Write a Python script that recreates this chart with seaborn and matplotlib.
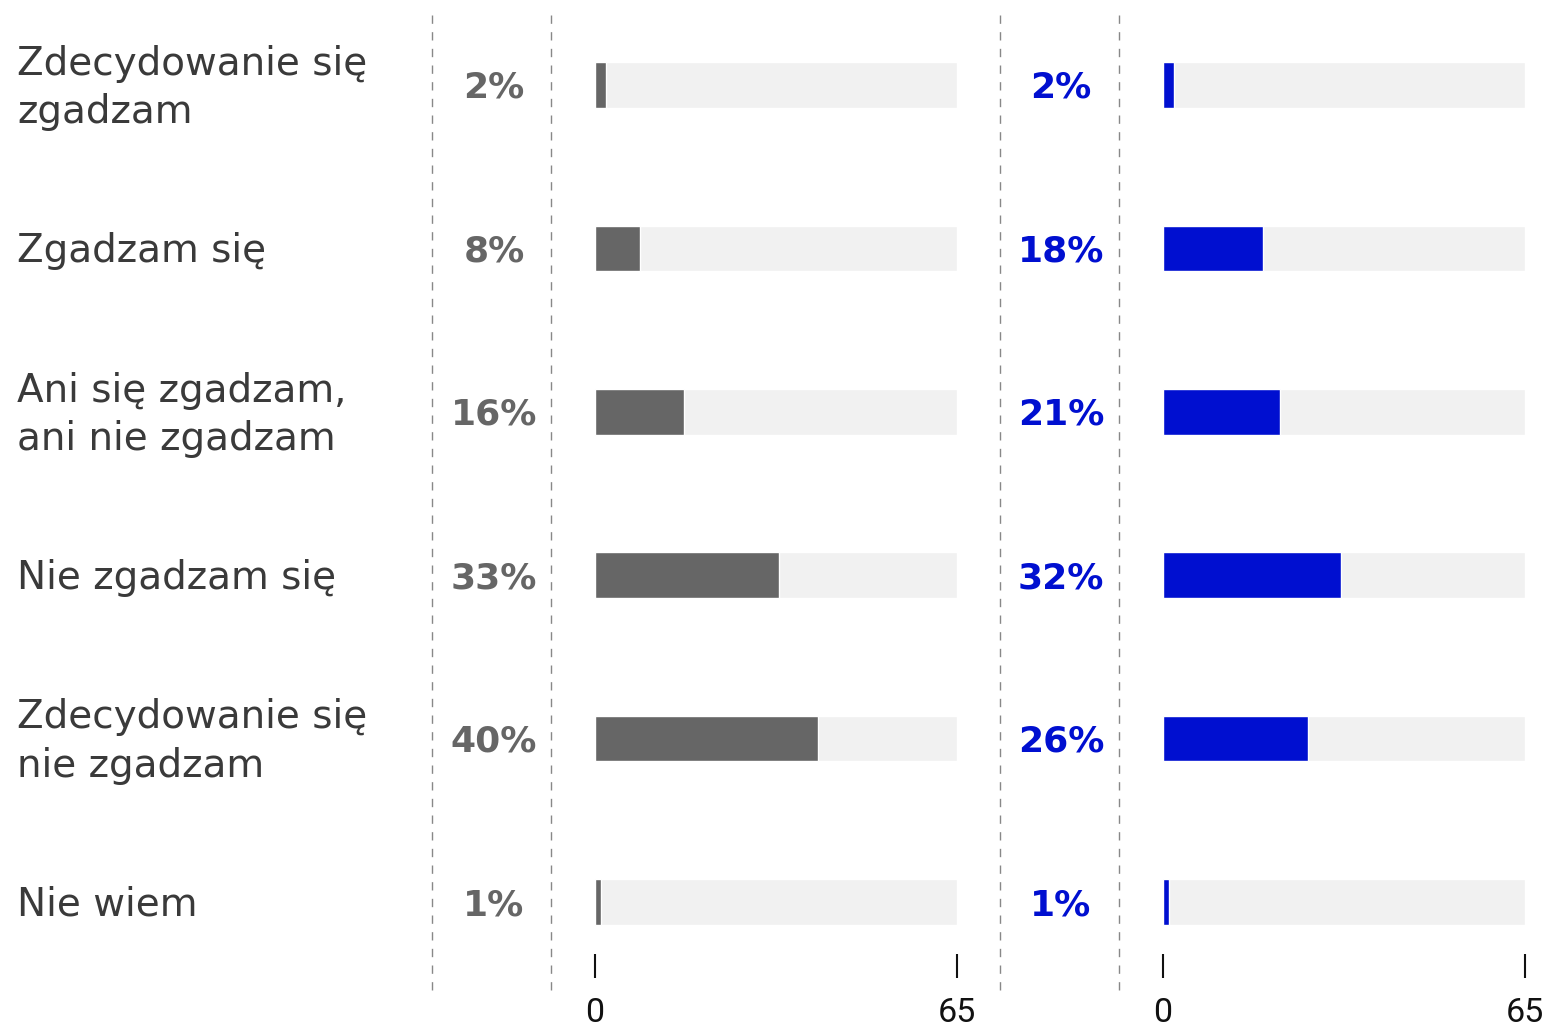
import matplotlib.pyplot as plt
import pandas as pd
import seaborn as sns
from matplotlib.lines import Line2D

categories = [
    "Zdecydowanie się\nzgadzam",
    "Zgadzam się",
    "Ani się zgadzam,\nani nie zgadzam",
    "Nie zgadzam się",
    "Zdecydowanie się\nnie zgadzam",
    "Nie wiem",
]
values_gray = [2, 8, 16, 33, 40, 1]
values_blue = [2, 18, 21, 32, 26, 1]
axis_max = 65
axis_ticks = [0, 65]

GRAY = "#666666"
BLUE = "#000FD0"
TRACK = "#F1F1F1"
TEXT = "#3a3a3a"

W, H = 1544, 1027
sns.set_theme(style="white")
plt.rcParams["font.family"] = ["DejaVu Sans"]

fig = plt.figure(figsize=(W / 100, H / 100), dpi=100)


def px_rect(x0, y0, x1, y1):
    return [x0 / W, 1 - y1 / H, (x1 - x0) / W, (y1 - y0) / H]


row0, step = 85, 163.4
ax_bottom_px = 978
ylim = ((ax_bottom_px - row0) / step, (0 - row0) / step)

df = pd.DataFrame({"cat": categories, "gray": values_gray, "blue": values_blue,
                   "full": [axis_max] * len(categories)})


def panel(x0, x1, col, color):
    ax = fig.add_axes(px_rect(x0, 0, x1, ax_bottom_px))
    # light track behind every bar, then the value bar on top
    sns.barplot(data=df, x="full", y="cat", color=TRACK, width=0.28,
                orient="h", ax=ax, saturation=1)
    sns.barplot(data=df, x=col, y="cat", color=color, width=0.28,
                orient="h", ax=ax, saturation=1)
    ax.set_xlim(0, axis_max)
    ax.set_ylim(*ylim)
    ax.set_yticks([])
    ax.set_xlabel("")
    ax.set_ylabel("")
    for s in ax.spines.values():
        s.set_visible(False)
    ax.set_xticks(axis_ticks)
    ax.set_xticklabels([str(t) for t in axis_ticks], fontsize=24.5,
                       family=["Liberation Sans Narrow", "Roboto"], color="#111111")
    ax.tick_params(axis="x", direction="in", length=17, width=1.5,
                   color="#111111", pad=14, bottom=True)
    ax.patch.set_alpha(0)
    return ax


panel(595, 957, "gray", GRAY)
panel(1163, 1525, "blue", BLUE)

# category labels and percentage labels
for i, cat in enumerate(categories):
    y = 1 - (row0 + step * i + 3) / H
    fig.text(17 / W, y, cat, ha="left", va="center", fontsize=28,
             color=TEXT, linespacing=1.34)
    fig.text(494 / W, y, f"{values_gray[i]}%", ha="center", va="center",
             fontsize=26, fontweight="bold", color=GRAY)
    fig.text(1061 / W, y, f"{values_blue[i]}%", ha="center", va="center",
             fontsize=26, fontweight="bold", color=BLUE)

# dashed separators
for x in [432, 551, 1000, 1119]:
    fig.add_artist(Line2D([x / W, x / W], [1 - 15 / H, 1 - 995 / H],
                          color="#888888", linewidth=1, linestyle=(0, (6, 6))))

fig.savefig("out.png", dpi=100)
